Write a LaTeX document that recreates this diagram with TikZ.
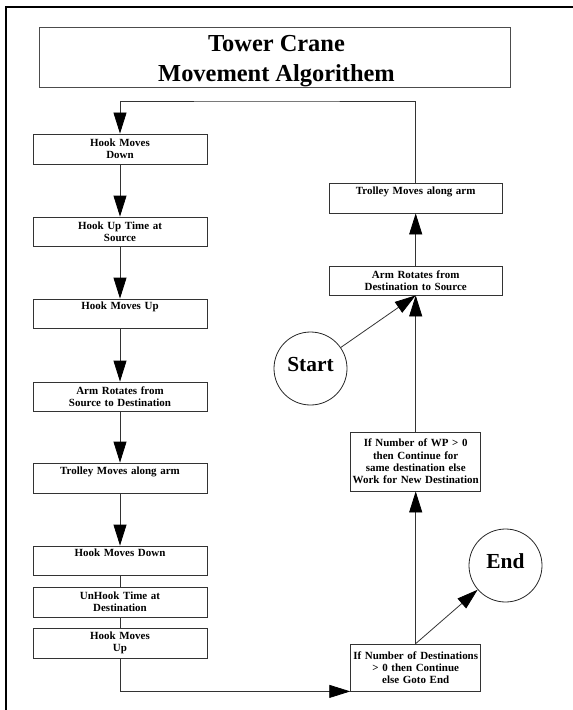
\documentclass[tikz,border=0pt]{standalone}
\usepackage{fontspec}
\setmainfont{Liberation Serif}
\usetikzlibrary{arrows.meta}
\begin{document}
\begin{tikzpicture}[x=1bp,y=-1bp,
  box/.style={draw=black!80, line width=0.8bp, rectangle, inner sep=0pt, align=center,
    font=\fontsize{11}{12.3}\selectfont\bfseries},
  lbox/.style={box, text width=174bp, minimum width=174bp},
  rbox/.style={box, text width=173bp, minimum width=173bp},
  cbox/.style={box, text width=130bp, minimum width=130bp},
  term/.style={draw=black!85, line width=0.8bp, circle, minimum size=73bp, inner sep=0pt,
    font=\fontsize{21.5}{24}\selectfont\bfseries, text depth=8bp},
  arr/.style={-{Triangle[length=21bp,width=13bp,color=black]}, draw=black!80, line width=0.8bp},
  con/.style={draw=black!80, line width=0.8bp}]
\useasboundingbox (0,0) rectangle (573,710);
% frame
\draw[line width=2.4bp] (6,712) -- (6,7) -- (575,7);
% title
\node[draw=black!70, line width=1bp, minimum width=470bp, minimum height=60bp, inner sep=0pt] (title) at (275,57.5) {};
\node[align=center, inner sep=0pt, font=\fontsize{24.5}{29.4}\selectfont\bfseries] (titletext) at (276.5,61.2) {Tower Crane\\Movement Algorithem};
% left column
\node[lbox, minimum height=30bp] (hmd1) at (120,149) {Hook Moves\\Down};
\node[lbox, minimum height=29bp] (hut) at (120,231.5) {Hook Up Time at\\Source};
\node[lbox, minimum height=29bp] (hmu1) at (120,313.5) {Hook Moves Up\\\phantom{Hg}};
\node[lbox, minimum height=29bp] (arsd) at (120,396.5) {Arm Rotates from\\Source to Destination};
\node[lbox, minimum height=30bp] (trolL) at (120,478) {Trolley Moves along arm\\\phantom{Hg}};
\node[lbox, minimum height=29bp] (hmd2) at (120,560.5) {Hook Moves Down\\\phantom{Hg}};
\node[lbox, minimum height=30bp] (uht) at (120,602) {UnHook Time at\\Destination};
\node[lbox, minimum height=30bp] (hmu2) at (120,643) {Hook Moves\\Up};
% right column
\node[rbox, minimum height=30bp] (trolR) at (415.7,198) {Trolley Moves along arm\\\phantom{Hg}};
\node[rbox, minimum height=29bp] (ards) at (415.7,280.5) {Arm Rotates from\\Destination to Source};
\node[cbox, minimum height=59bp] (wp) at (415.7,461.5) {If Number of WP > 0\\then Continue for\\same destination else\\Work for New Destination};
\node[cbox, minimum height=47bp] (dest) at (415.7,667.5) {If Number of Destinations\\> 0 then Continue\\else Goto End};
% terminals
\node[term] (start) at (310.5,368.5) {Start};
\node[term] (end) at (505.5,565.5) {End};
\coordinate (looptop) at (266,101);
% connectors
\draw[arr] (hmd1) -- (hut);
\draw[arr] (hut) -- (hmu1);
\draw[arr] (hmu1) -- (arsd);
\draw[arr] (arsd) -- (trolL);
\draw[arr] (trolL) -- (hmd2);
\draw[con] (hmd2) -- (uht);
\draw[con] (uht) -- (hmu2);
\draw[arr] (hmu2.south) |- (dest.south west);
\draw[arr] (dest.north) -- (wp.south);
\draw[arr] (dest.north) -- (end);
\draw[arr] (wp.north) -- (ards.south);
\draw[arr] (start) -- (ards.south);
\draw[arr] (ards) -- (trolR);
\draw[arr] (trolR.north) |- (looptop) -| (hmd1.north);
\end{tikzpicture}
\end{document}
